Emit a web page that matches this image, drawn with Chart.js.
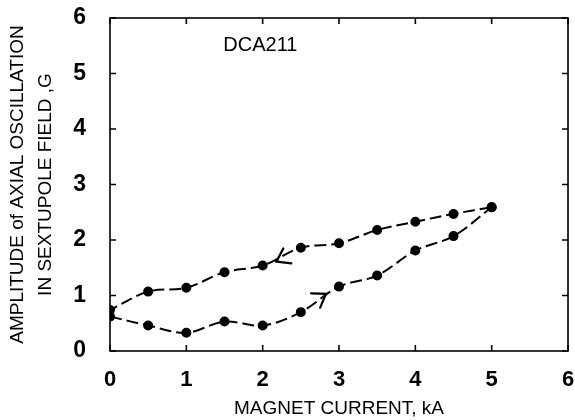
<!DOCTYPE html>
<html><head><meta charset="utf-8">
<script src="https://cdn.jsdelivr.net/npm/chart.js@4/dist/chart.umd.min.js"></script>
<style>html,body{margin:0;padding:0;background:#fff}#wrap{width:575px;height:420px}</style>
</head><body><div id="wrap"><canvas id="c"></canvas></div>
<script>
const currentUp = [0, 0.5, 1.0, 1.5, 2.0, 2.5, 3.0, 3.5, 4.0, 4.5, 5.0];
const amplitudeUp = [0.62, 0.46, 0.33, 0.53, 0.46, 0.70, 1.16, 1.36, 1.81, 2.07, 2.59];
const currentDown = [5.0, 4.5, 4.0, 3.5, 3.0, 2.5, 2.0, 1.5, 1.0, 0.5, 0];
const amplitudeDown = [2.59, 2.47, 2.33, 2.18, 1.94, 1.86, 1.54, 1.42, 1.14, 1.07, 0.74];
const tickValues = [0, 1, 2, 3, 4, 5, 6];
const arrowTipX = [2.18, 2.83];
const arrowTipY = [1.61, 1.03];
const arrowFromX = [2.55, 2.5];
const arrowFromY = [1.88, 0.74];
const annotationText = "DCA211";
const annotationX = 1.97, annotationY = 5.5;

const FONT = '"Liberation Sans", Arial, sans-serif';
const toPts = (xs, ys) => xs.map((x, i) => ({x, y: ys[i]}));

const framePlugin = {
  id: 'frame',
  afterDraw(chart) {
    const {ctx, chartArea: a, scales: {x, y}} = chart;
    ctx.save();
    ctx.strokeStyle = '#000';
    ctx.lineWidth = 1.6;
    ctx.strokeRect(a.left, a.top, a.right - a.left, a.bottom - a.top);
    const tl = 6;
    ctx.beginPath();
    tickValues.forEach(v => {
      const px = x.getPixelForValue(v);
      ctx.moveTo(px, a.bottom); ctx.lineTo(px, a.bottom - tl);
      ctx.moveTo(px, a.top); ctx.lineTo(px, a.top + tl);
      const py = y.getPixelForValue(v);
      ctx.moveTo(a.left, py); ctx.lineTo(a.left + tl, py);
      ctx.moveTo(a.right, py); ctx.lineTo(a.right - tl, py);
    });
    ctx.stroke();
    ctx.lineWidth = 2.2;
    ctx.lineCap = 'round';
    arrowTipX.forEach((tx, i) => {
      const px = x.getPixelForValue(tx), py = y.getPixelForValue(arrowTipY[i]);
      const fx = x.getPixelForValue(arrowFromX[i]), fy = y.getPixelForValue(arrowFromY[i]);
      const ang = Math.atan2(py - fy, px - fx);
      const L = 15;
      ctx.beginPath();
      ctx.moveTo(px - L * Math.cos(ang - 0.6), py - L * Math.sin(ang - 0.6));
      ctx.lineTo(px, py);
      ctx.lineTo(px - L * Math.cos(ang + 0.6), py - L * Math.sin(ang + 0.6));
      ctx.stroke();
    });
    ctx.fillStyle = '#000';
    ctx.font = '20px ' + FONT;
    ctx.textAlign = 'center';
    ctx.textBaseline = 'middle';
    ctx.fillText(annotationText, x.getPixelForValue(annotationX), y.getPixelForValue(annotationY));
    ctx.restore();
  }
};

const lineStyle = {
  borderColor: '#000', backgroundColor: '#000', borderWidth: 2,
  borderDash: [12, 5], pointRadius: 4, pointHoverRadius: 4,
  tension: 0.35, fill: false, showLine: true
};

new Chart(document.getElementById('c'), {
  type: 'scatter',
  data: {
    datasets: [
      Object.assign({label: 'increasing', data: toPts(currentUp, amplitudeUp)}, lineStyle),
      Object.assign({label: 'decreasing', data: toPts(currentDown, amplitudeDown)}, lineStyle)
    ]
  },
  options: {
    responsive: true, maintainAspectRatio: false, animation: false,
    layout: {padding: {left: 0, right: 7, top: 18, bottom: 0}},
    plugins: {legend: {display: false}, tooltip: {enabled: false}},
    scales: {
      x: {
        type: 'linear', min: 0, max: 6,
        grid: {display: false}, border: {display: false},
        afterBuildTicks: s => { s.ticks = tickValues.map(v => ({value: v})); },
        ticks: {color: '#000', padding: 8, font: {family: FONT, size: 22, weight: 'bold'}},
        title: {display: true, text: 'MAGNET CURRENT, kA', color: '#000', padding: {top: 6, bottom: 0},
          font: {family: FONT, size: 19}},
        afterFit: s => { s.height = 69; s.paddingLeft = 0; s.paddingRight = 0; }
      },
      y: {
        type: 'linear', min: 0, max: 6,
        grid: {display: false}, border: {display: false},
        afterBuildTicks: s => { s.ticks = tickValues.map(v => ({value: v})); },
        ticks: {color: '#000', padding: 16, font: {family: FONT, size: 23, weight: 'bold'}},
        title: {display: true, text: ['AMPLITUDE of AXIAL OSCILLATION', 'IN SEXTUPOLE FIELD ,G'], color: '#000',
          padding: {top: 4, bottom: 4},
          font: {family: FONT, size: 19, lineHeight: 1.45}},
        afterFit: s => { s.width = 110; s.paddingTop = 0; s.paddingBottom = 0; }
      }
    }
  },
  plugins: [framePlugin]
});
</script></body></html>
